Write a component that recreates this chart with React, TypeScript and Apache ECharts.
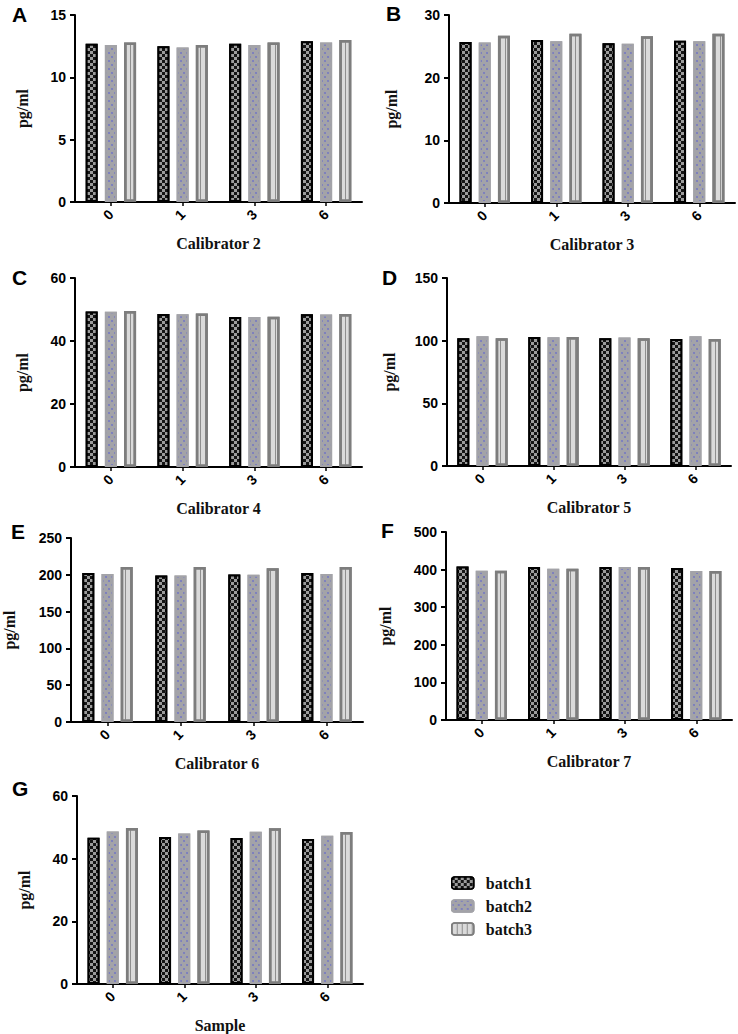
import React, { useEffect, useRef } from "react";
import * as echarts from "echarts";

const categories = ["0", "1", "3", "6"];
const batchNames = ["batch1", "batch2", "batch3"];
const panelLetters = ["A", "B", "C", "D", "E", "F", "G"];
const panelTitles = [
  "Calibrator 2",
  "Calibrator 3",
  "Calibrator 4",
  "Calibrator 5",
  "Calibrator 6",
  "Calibrator 7",
  "Sample",
];
const yMax = [15, 30, 60, 150, 250, 500, 60];
const yInterval = [5, 10, 20, 50, 50, 100, 20];

const batch1 = [
  [12.7, 12.5, 12.7, 12.9],
  [25.7, 26.0, 25.5, 25.9],
  [49.4, 48.6, 47.6, 48.5],
  [102.0, 103.0, 102.0, 101.3],
  [202.5, 199.0, 200.5, 202.5],
  [408, 407, 407, 404],
  [46.7, 46.9, 46.6, 46.3],
];
const batch2 = [
  [12.6, 12.4, 12.6, 12.8],
  [25.6, 25.8, 25.4, 25.8],
  [49.3, 48.5, 47.6, 48.4],
  [103.5, 102.7, 102.5, 103.5],
  [201, 199, 200, 201],
  [397, 402, 407, 396],
  [48.7, 48.0, 48.6, 47.3],
];
const batch3 = [
  [12.8, 12.6, 12.8, 13.0],
  [26.7, 27.0, 26.6, 27.0],
  [49.5, 48.7, 47.7, 48.6],
  [102.0, 103.0, 102.0, 101.3],
  [210.5, 210.5, 209, 210.5],
  [397, 402, 407, 396],
  [49.8, 49.0, 49.7, 48.5],
];
const batchData = [batch1, batch2, batch3];

// layout (px)
const grids = [
  { left: 75, top: 15, width: 287, height: 187 },
  { left: 449, top: 15, width: 286, height: 188 },
  { left: 75, top: 278, width: 287, height: 189 },
  { left: 447, top: 278, width: 284, height: 188 },
  { left: 68, top: 538, width: 295, height: 184 },
  { left: 446, top: 532, width: 286, height: 188 },
  { left: 77, top: 796, width: 286, height: 189 },
];
const yNameGaps = [45, 50, 45, 50, 54, 53, 45];
const letterPos = [
  [12, 14],
  [386, 13],
  [12, 277],
  [382, 277],
  [11, 531],
  [381, 530],
  [12, 788],
];

const SERIF = "'Liberation Serif', 'Times New Roman', serif";
const SANS = "'Liberation Sans', Arial, sans-serif";

const decals = [
  {
    symbol: "rect",
    symbolSize: 1,
    color: "#9c9c9c",
    backgroundColor: "#151515",
    dashArrayX: [
      [3, 3],
      [0, 3, 3, 0],
    ],
    dashArrayY: [3, 0],
    rotation: 0,
  },
  {
    symbol: "circle",
    symbolSize: 0.8,
    color: "#6a6ec8",
    backgroundColor: "#a3a3a8",
    dashArrayX: [
      [1.5, 3.5],
      [0, 2.5, 1.5, 1],
    ],
    dashArrayY: [1.5, 1.5],
    rotation: 0,
  },
  {
    symbol: "rect",
    symbolSize: 1,
    color: "#8e8e8e",
    backgroundColor: "#dadada",
    dashArrayX: [1, 4],
    dashArrayY: [4, 0],
    rotation: 0,
  },
];
const itemStyles = [
  { color: "#151515", borderColor: "#000000", borderWidth: 2 },
  { color: "#a3a3a8", borderColor: "#a3a3a8", borderWidth: 2 },
  { color: "#dadada", borderColor: "#7d7d7d", borderWidth: 2.5 },
];

export default function App() {
  const ref = useRef<HTMLDivElement>(null);
  useEffect(() => {
    if (!ref.current) return;
    const chart = echarts.init(ref.current, null, { renderer: "svg" });

    const grid = grids.map((g) => ({ ...g, containLabel: false }));
    const xAxis = grids.map((_, p) => ({
      type: "category",
      gridIndex: p,
      data: categories,
      name: panelTitles[p],
      nameLocation: "middle",
      nameGap: 33,
      nameTextStyle: { fontFamily: SERIF, fontWeight: "bold", fontSize: 16, color: "#111" },
      axisLine: { show: true, lineStyle: { color: "#000", width: 2 } },
      axisTick: { show: true, alignWithLabel: true, length: 4, lineStyle: { color: "#000", width: 1.5 } },
      axisLabel: {
        rotate: 45,
        margin: 10,
        fontFamily: SANS,
        fontWeight: "bold",
        fontSize: 14,
        color: "#000",
      },
      splitLine: { show: false },
    }));
    const yAxis = grids.map((_, p) => ({
      type: "value",
      gridIndex: p,
      min: 0,
      max: yMax[p],
      interval: yInterval[p],
      name: "pg/ml",
      nameLocation: "middle",
      nameRotate: 90,
      nameGap: yNameGaps[p],
      nameTextStyle: { fontFamily: SERIF, fontWeight: "bold", fontSize: 16, color: "#111" },
      axisLine: { show: true, lineStyle: { color: "#000", width: 2 } },
      axisTick: { show: true, length: 5, lineStyle: { color: "#000", width: 2 } },
      axisLabel: { margin: 9, fontFamily: SANS, fontWeight: "bold", fontSize: 14, color: "#000" },
      splitLine: { show: false },
    }));
    const series: any[] = [];
    grids.forEach((_, p) => {
      batchNames.forEach((name, b) => {
        series.push({
          type: "bar",
          name,
          xAxisIndex: p,
          yAxisIndex: p,
          barWidth: 12,
          barGap: "60%",
          data: batchData[b][p],
          itemStyle: { ...itemStyles[b], decal: decals[b] },
          emphasis: { disabled: true },
        });
      });
    });

    const graphic = panelLetters.map((l, i) => ({
      type: "text",
      x: letterPos[i][0],
      y: letterPos[i][1],
      style: {
        text: l,
        font: `bold 21px ${SANS}`,
        fill: "#000",
        textVerticalAlign: "middle",
      },
    }));

    chart.setOption({
      animation: false,
      backgroundColor: "#ffffff",
      grid,
      xAxis,
      yAxis,
      series,
      graphic,
      legend: {
        orient: "vertical",
        left: 451,
        top: 874,
        padding: 0,
        itemWidth: 22,
        itemHeight: 12,
        itemGap: 5,
        icon: "roundRect",
        data: batchNames.map((n, b) => ({
          name: n,
          itemStyle: { ...itemStyles[b], borderWidth: 1.5, decal: decals[b] },
        })),
        textStyle: {
          fontFamily: SERIF,
          fontWeight: "bold",
          fontSize: 16,
          lineHeight: 18,
          color: "#111",
          padding: [0, 0, 0, 7],
        },
        selectedMode: false,
      },
    });
    return () => chart.dispose();
  }, []);
  return (
    <div
      ref={ref}
      style={{ position: "absolute", left: 0, top: 0, width: 738, height: 1034 }}
    />
  );
}
